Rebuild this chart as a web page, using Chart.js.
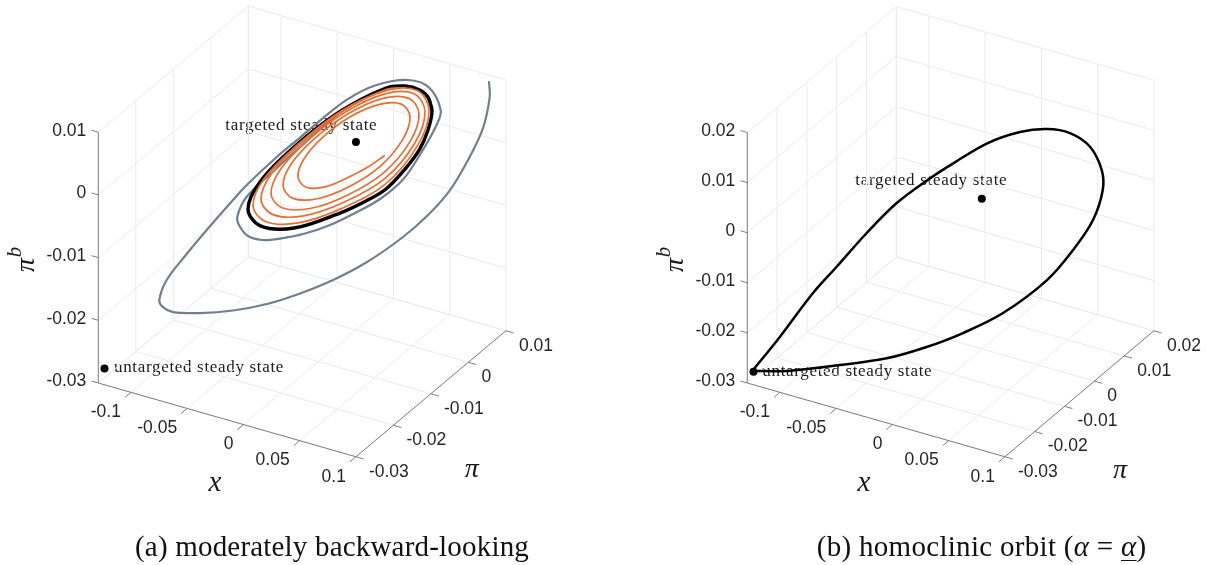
<!DOCTYPE html>
<html>
<head>
<meta charset="utf-8">
<title>Orbits</title>
<script src="https://cdn.jsdelivr.net/npm/chart.js@4"></script>
<style>
html,body{margin:0;padding:0;background:#fff;width:1207px;height:565px;overflow:hidden}
canvas{position:absolute;top:0}
</style>
</head>
<body>
<canvas id="panelA" width="604" height="565" style="left:0"></canvas>
<canvas id="panelB" width="603" height="565" style="left:604px"></canvas>
<script>
// ---------- tick values ----------
const xTicks = [-0.1, -0.05, 0, 0.05, 0.1];
const xTickLabels = ['-0.1', '-0.05', '0', '0.05', '0.1'];
const aPiTicks = [-0.03, -0.02, -0.01, 0, 0.01];
const aPiTickLabels = ['-0.03', '-0.02', '-0.01', '0', '0.01'];
const aZTicks = [-0.03, -0.02, -0.01, 0, 0.01];
const aZTickLabels = ['-0.03', '-0.02', '-0.01', '0', '0.01'];
const bPiTicks = [-0.03, -0.02, -0.01, 0, 0.01, 0.02];
const bPiTickLabels = ['-0.03', '-0.02', '-0.01', '0', '0.01', '0.02'];
const bZTicks = [-0.03, -0.02, -0.01, 0, 0.01, 0.02];
const bZTickLabels = ['-0.03', '-0.02', '-0.01', '0', '0.01', '0.02'];

// ---------- steady states (x, pi, pi^b) ----------
const targetedState = [0, 0, 0];
const untargetedState = [-0.1235, -0.03, -0.0274];

// ---------- panel (a): grey trajectory ----------
const aGreyX = [0.08451,0.08495,0.0807,0.07117,0.05975,0.04578,0.0299,0.00705,-0.01454,-0.03549,-0.05644,-0.07803,-0.09898,-0.11613,-0.12248,-0.12483,-0.12013,-0.10851,-0.09473,-0.07803,-0.06933,-0.05029,-0.03549,-0.02089,-0.00565,0.01213,0.03308,0.04641,0.05384,0.05149,0.04133,0.0299,0.0153,-0.00057,-0.01644,-0.03232,-0.04819,-0.05962,-0.06851,-0.0739,-0.0753,-0.06933,-0.0501,-0.02724,-0.00692];
const aGreyPi = [0.01014,0.01019,0.00968,0.00854,0.00717,0.00549,0.00359,0.00085,-0.00174,-0.00426,-0.00677,-0.00936,-0.01188,-0.01394,-0.0147,-0.01498,-0.01442,-0.01302,-0.01137,-0.00936,-0.00832,-0.00603,-0.00426,-0.00251,-0.00068,0.00146,0.00397,0.00557,0.00646,0.00618,0.00496,0.00359,0.00184,-0.00007,-0.00197,-0.00388,-0.00578,-0.00715,-0.00822,-0.00887,-0.00904,-0.00832,-0.00601,-0.00327,-0.00083];
const aGreyZ = [0.0088,0.0064,0.0015,-0.00352,-0.00821,-0.01207,-0.01543,-0.01922,-0.0219,-0.02386,-0.02535,-0.02619,-0.02641,-0.02609,-0.02524,-0.0241,-0.02095,-0.01723,-0.0132,-0.00857,-0.00626,-0.00196,0.00102,0.004,0.00681,0.00889,0.00958,0.00826,0.00461,0.0024,-0.00214,-0.00626,-0.00924,-0.01134,-0.01311,-0.01432,-0.01498,-0.01511,-0.0144,-0.01275,-0.01126,-0.00812,-0.00371,0.00134,0.00547];

// ---------- panel (a): black limit cycle ----------
const aCycleX = [0.04832,0.0461,0.04051,0.03117,0.01911,-0.0101,-0.0393,-0.0607,-0.06851,-0.0607,-0.0393,-0.0101,0.00641,0.01911,0.03117,0.04051,0.04578,0.04832,0.0461];
const aCyclePi = [0.0058,0.00553,0.00486,0.00374,0.00229,-0.00121,-0.00472,-0.00728,-0.00822,-0.00728,-0.00472,-0.00121,0.00077,0.00229,0.00374,0.00486,0.00549,0.0058,0.00553];
const aCycleZ = [0.00453,0.00659,0.00792,0.00864,0.00843,0.00494,-0.00046,-0.00577,-0.01007,-0.01284,-0.01338,-0.01125,-0.00948,-0.00768,-0.0046,-0.00149,0.00149,0.00453,0.00659];

// ---------- panel (a): orange spiral ----------
const aSpiralX = [0.01803,0.00768,-0.00311,-0.01905,-0.03168,-0.03676,-0.03295,-0.02076,-0.00327,0.01492,0.02883,0.03435,0.02965,0.01575,-0.00406,-0.02451,-0.04,-0.04629,-0.04121,-0.0261,-0.0047,0.01721,0.03365,0.04006,0.03435,0.01778,-0.00543,-0.02908,-0.04692,-0.0539,-0.04794,-0.03054,-0.00619,0.01848,0.03689,0.04387,0.03733,0.01873,-0.00698,-0.03314,-0.0527,-0.06025,-0.05359,-0.03435,-0.00781,0.01911,0.03892,0.04641,0.03924,0.01911,-0.00857,-0.03663,-0.0574,-0.06533,-0.0581,-0.03759,-0.0093,0.01917,0.03117];
const aSpiralPi = [0.00216,0.00092,-0.00037,-0.00229,-0.0038,-0.00441,-0.00395,-0.00249,-0.00039,0.00179,0.00346,0.00412,0.00356,0.00189,-0.00049,-0.00294,-0.0048,-0.00555,-0.00494,-0.00313,-0.00056,0.00207,0.00404,0.00481,0.00412,0.00213,-0.00065,-0.00349,-0.00563,-0.00647,-0.00575,-0.00366,-0.00074,0.00222,0.00443,0.00526,0.00448,0.00225,-0.00084,-0.00398,-0.00632,-0.00723,-0.00643,-0.00412,-0.00094,0.00229,0.00467,0.00557,0.00471,0.00229,-0.00103,-0.0044,-0.00689,-0.00784,-0.00697,-0.00451,-0.00112,0.0023,0.00374];
const aSpiralZ = [-0.00236,-0.00407,-0.00541,-0.00696,-0.00694,-0.00525,-0.00238,0.001,0.00408,0.00586,0.00577,0.00371,0.0001,-0.00395,-0.00706,-0.00884,-0.00864,-0.0066,-0.00319,0.00081,0.00457,0.0068,0.00665,0.00411,-0.00026,-0.00504,-0.00844,-0.01036,-0.01007,-0.00778,-0.00396,0.00053,0.0049,0.00751,0.00736,0.00444,-0.00054,-0.00593,-0.00948,-0.01149,-0.01112,-0.00863,-0.00458,0.00026,0.00509,0.00801,0.00785,0.00461,-0.00091,-0.00682,-0.01048,-0.01259,-0.01217,-0.00956,-0.00529,-0.00021,0.00504,0.0082,0.0084];

// ---------- panel (b): homoclinic orbit ----------
const bOrbitX = [-0.12473,-0.10424,-0.07707,-0.05168,-0.03087,-0.01022,0.01152,0.03543,0.04957,0.06043,0.06571,0.06516,0.0588,0.04793,0.03527,0.02076,0.00266,-0.01565,-0.02815,-0.04625,-0.06255,-0.07886,-0.09174,-0.10967,-0.12473];
const bOrbitPi = [-0.02994,-0.02502,-0.0185,-0.0124,-0.00741,-0.00245,0.00277,0.0085,0.0119,0.0145,0.01577,0.01564,0.01411,0.0115,0.00846,0.00498,0.00064,-0.00376,-0.00676,-0.0111,-0.01501,-0.01893,-0.02202,-0.02632,-0.02994];
const bOrbitZ = [-0.02737,-0.02846,-0.02886,-0.02896,-0.02798,-0.02625,-0.02349,-0.01825,-0.01306,-0.00768,-0.00199,0.00203,0.00704,0.01039,0.0119,0.01212,0.01085,0.00789,0.00564,0.00173,-0.00333,-0.00914,-0.01366,-0.02137,-0.02737];

// ---------- view settings ----------
const X_MIN = -0.129, X_MAX = 0.1;
const GRID = '#ebebeb', AXIS = '#7f7f7f', TICKTXT = '#262626';
const SANS = '"Liberation Sans", Arial, sans-serif', SERIF = '"Liberation Serif", serif';

function makePanel(id, cfg) {
  const P = (x, p, z) => ({
    x: cfg.ox + (x - X_MIN) * 1125 + (p - cfg.piMin) * cfg.piDx,
    y: cfg.oy + (x - X_MIN) * 322 - (p - cfg.piMin) * cfg.piDy - (z - cfg.zMin) * cfg.zDy
  });
  const piMax = cfg.piTicks[cfg.piTicks.length - 1], zMax = cfg.zTicks[cfg.zTicks.length - 1];
  const seg = (list, a, b) => { list.push(P(...a), P(...b), {x: NaN, y: NaN}); };

  const grid = [];
  [X_MIN, ...xTicks].forEach(x => {
    seg(grid, [x, cfg.piMin, cfg.zMin], [x, piMax, cfg.zMin]);
    seg(grid, [x, piMax, cfg.zMin], [x, piMax, zMax]);
  });
  cfg.piTicks.forEach(p => {
    seg(grid, [X_MIN, p, cfg.zMin], [X_MAX, p, cfg.zMin]);
    seg(grid, [X_MIN, p, cfg.zMin], [X_MIN, p, zMax]);
  });
  cfg.zTicks.forEach(z => {
    seg(grid, [X_MIN, cfg.piMin, z], [X_MIN, piMax, z]);
    seg(grid, [X_MIN, piMax, z], [X_MAX, piMax, z]);
  });

  const axes = [];
  seg(axes, [X_MIN, cfg.piMin, cfg.zMin], [X_MAX, cfg.piMin, cfg.zMin]);
  seg(axes, [X_MAX, cfg.piMin, cfg.zMin], [X_MAX, piMax, cfg.zMin]);
  seg(axes, [X_MIN, cfg.piMin, cfg.zMin], [X_MIN, cfg.piMin, zMax]);
  xTicks.forEach(x => seg(axes, [x, cfg.piMin, cfg.zMin], [x, cfg.piMin - cfg.xTickLen, cfg.zMin]));
  cfg.piTicks.forEach(p => seg(axes, [X_MAX, p, cfg.zMin], [X_MAX + 0.007, p, cfg.zMin]));
  cfg.zTicks.forEach(z => seg(axes, [X_MIN, cfg.piMin, z], [X_MIN - 0.006, cfg.piMin, z]));

  const curve = (xs, ps, zs) => xs.map((x, i) => P(x, ps[i], zs[i]));
  const datasets = [
    {data: grid, borderColor: GRID, borderWidth: 1, pointRadius: 0, showLine: true, spanGaps: false, order: 10},
    {data: axes, borderColor: AXIS, borderWidth: 1, pointRadius: 0, showLine: true, spanGaps: false, order: 9}
  ];
  cfg.curves.forEach((c, i) => datasets.push({
    data: curve(c.x, c.p, c.z), borderColor: c.color, borderWidth: c.width,
    pointRadius: 0, showLine: true, tension: 0.35, borderCapStyle: 'round', borderJoinStyle: 'round', order: 8 - i
  }));
  datasets.push({
    data: [P(...targetedState), P(...untargetedState)],
    backgroundColor: '#000', borderColor: '#000', pointRadius: 4, pointBorderWidth: 0, showLine: false, order: 0
  });

  const shift = cfg.left;
  const text = {
    id: 'panelText',
    beforeDatasetsDraw(chart) {
      const c = chart.ctx;
      c.save();
      c.fillStyle = '#1a1a1a';
      c.textBaseline = 'middle'; c.textAlign = 'left';
      c.font = '17px ' + SERIF;
      cfg.notes.forEach(n => fit(c, n.text, n.x - shift, n.y, n.w));
      c.restore();
    },
    afterDraw(chart) {
      const c = chart.ctx;
      c.save();
      c.fillStyle = TICKTXT;
      c.textBaseline = 'middle';
      c.font = '17.5px ' + SANS;
      c.textAlign = 'right';
      cfg.zTicks.forEach((z, i) => { const q = P(X_MIN, cfg.piMin, z); c.fillText(cfg.zLabels[i], q.x - 12 - shift, q.y - 1.5); });
      xTicks.forEach((x, i) => { const q = P(x, cfg.piMin, cfg.zMin); c.fillText(xTickLabels[i], q.x - 10 - shift, q.y + 20); });
      c.textAlign = 'left';
      cfg.piTicks.forEach((p, i) => { const q = P(X_MAX, p, cfg.zMin); c.fillText(cfg.piLabels[i], q.x + 13 - shift, q.y + 15); });

      c.fillStyle = '#1a1a1a';
      c.textAlign = 'center';
      c.font = 'italic 29px ' + SERIF;
      c.fillText('x', cfg.xLabel[0] - shift, cfg.xLabel[1]);
      c.font = 'italic 28px ' + SERIF;
      c.fillText('π', cfg.piLabel[0] - shift, cfg.piLabel[1]);
      c.save();
      c.translate(cfg.zLabel[0] - shift, cfg.zLabel[1]);
      c.rotate(-Math.PI / 2);
      c.fillText('π', 0, 0);
      c.font = 'italic 21px ' + SERIF;
      c.fillText('b', 13, -12);
      c.restore();

      cfg.caption(c, shift);
      c.restore();
    }
  };

  return new Chart(document.getElementById(id), {
    type: 'scatter',
    data: {datasets},
    options: {
      responsive: false, animation: false, events: [],
      layout: {padding: 0, autoPadding: false},
      plugins: {legend: {display: false}, tooltip: {enabled: false}, title: {display: false}},
      scales: {
        x: {type: 'linear', display: false, min: cfg.left, max: cfg.left + cfg.width},
        y: {type: 'linear', display: false, min: 0, max: 565, reverse: true}
      }
    },
    plugins: [text]
  });
}

function fit(c, str, x, y, w) {
  c.letterSpacing = '0px';
  const m = c.measureText(str).width;
  c.letterSpacing = ((w - m) / str.length).toFixed(3) + 'px';
  c.fillText(str, x, y);
  c.letterSpacing = '0px';
}

makePanel('panelA', {
  left: 0, width: 604, ox: 98.3, oy: 383, piMin: -0.03, zMin: -0.03,
  piDx: 3750, piDy: 3150, zDy: 6270, xTickLen: 0.0016,
  piTicks: aPiTicks, piLabels: aPiTickLabels, zTicks: aZTicks, zLabels: aZTickLabels,
  curves: [
    {x: aGreyX, p: aGreyPi, z: aGreyZ, color: '#708090', width: 2.2},
    {x: aCycleX, p: aCyclePi, z: aCycleZ, color: '#000000', width: 3.4},
    {x: aSpiralX, p: aSpiralPi, z: aSpiralZ, color: '#ee6c2f', width: 1.7}
  ],
  notes: [
    {text: 'targeted steady state', x: 225.3, y: 126, w: 152},
    {text: 'untargeted steady state', x: 114, y: 368, w: 170}
  ],
  xLabel: [215, 483], piLabel: [471.7, 470], zLabel: [27, 265],
  caption(c, s) {
    c.fillStyle = '#111'; c.textAlign = 'left'; c.font = '29px ' + SERIF;
    fit(c, '(a) moderately backward-looking', 135 - s, 548, 394);
  }
});

makePanel('panelB', {
  left: 604, width: 603, ox: 747.3, oy: 383, piMin: -0.03, zMin: -0.03,
  piDx: 2980, piDy: 2520, zDy: 5010, xTickLen: 0.002,
  piTicks: bPiTicks, piLabels: bPiTickLabels, zTicks: bZTicks, zLabels: bZTickLabels,
  curves: [
    {x: bOrbitX, p: bOrbitPi, z: bOrbitZ, color: '#000000', width: 2.5}
  ],
  notes: [
    {text: 'targeted steady state', x: 855.3, y: 180.5, w: 152},
    {text: 'untargeted steady state', x: 762.3, y: 371.7, w: 170}
  ],
  xLabel: [864, 483], piLabel: [1120, 470.7], zLabel: [676, 265],
  caption(c, s) {
    c.fillStyle = '#111'; c.textAlign = 'left'; c.font = '29px ' + SERIF;
    let x = 816.7 - s; const y = 548;
    const parts = [['(b) homoclinic orbit (', false], ['α', true], [' = ', false], ['α', true], [')', false]];
    let lastA = 0, lastW = 0;
    parts.forEach(([t, it], i) => {
      c.font = (it ? 'italic ' : '') + '29px ' + SERIF;
      c.letterSpacing = '0.3px';
      c.fillText(t, x, y);
      const w = c.measureText(t).width;
      if (i === 3) { lastA = x; lastW = w; }
      x += w;
    });
    c.letterSpacing = '0px';
    c.strokeStyle = '#111'; c.lineWidth = 1;
    c.beginPath(); c.moveTo(lastA, y + 12.5); c.lineTo(lastA + lastW, y + 12.5); c.stroke();
  }
});
</script>
</body>
</html>
